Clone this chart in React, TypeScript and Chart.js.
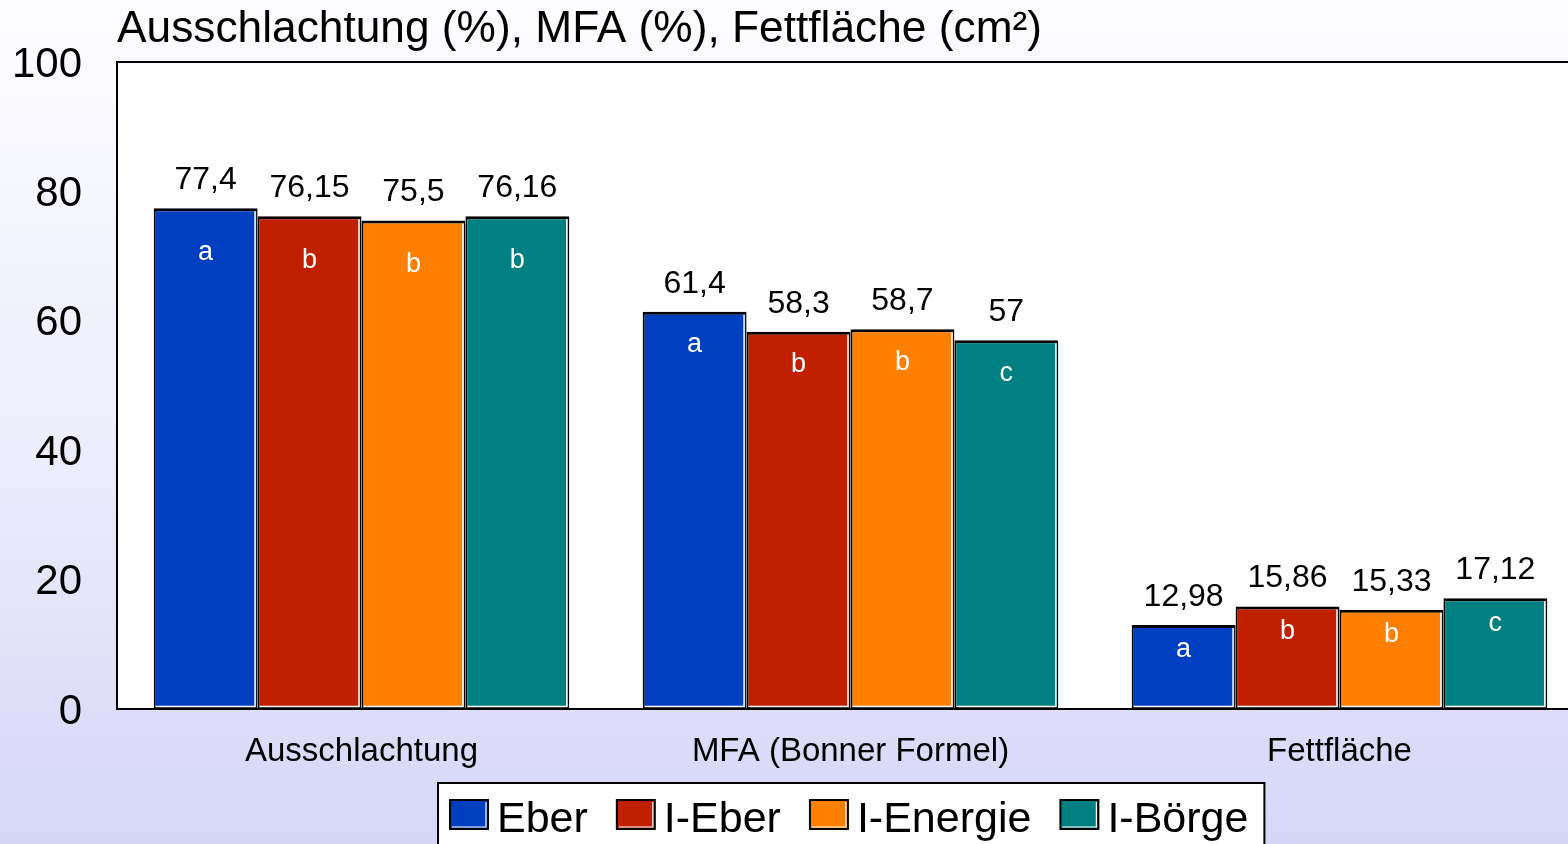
import React, { useEffect, useRef } from "react";
import { Chart, registerables } from "chart.js";

Chart.register(...registerables);

const title = "Ausschlachtung (%), MFA (%), Fettfläche (cm²)";
const categories = ["Ausschlachtung", "MFA (Bonner Formel)", "Fettfläche"];
const seriesNames = ["Eber", "I-Eber", "I-Energie", "I-Börge"];
const eber = [77.4, 61.4, 12.98];
const iEber = [76.15, 58.3, 15.86];
const iEnergie = [75.5, 58.7, 15.33];
const iBoerge = [76.16, 57, 17.12];
const eberLetters = ["a", "a", "a"];
const iEberLetters = ["b", "b", "b"];
const iEnergieLetters = ["b", "b", "b"];
const iBoergeLetters = ["b", "c", "c"];
const yMin = 0;
const yMax = 100;
const yStep = 20;

const colors = ["#0040c0", "#c02000", "#ff8000", "#008080"];
const FONT = '"Liberation Sans", Arial, sans-serif';
const letterOffsets = [44, 33, 25];

const fmt = (v: number) => String(v).replace(".", ",");

const decorPlugin = {
  id: "decor",
  beforeDraw(chart: any) {
    const { ctx, width, height, chartArea: a } = chart;
    ctx.save();
    const g = ctx.createLinearGradient(0, 0, 0, height);
    g.addColorStop(0, "#fdfdff");
    g.addColorStop(0.55, "#ececfc");
    g.addColorStop(1, "#d6d6f8");
    ctx.fillStyle = g;
    ctx.fillRect(0, 0, width, height);
    ctx.fillStyle = "#ffffff";
    ctx.fillRect(a.left, a.top, a.right - a.left, a.bottom - a.top);
    ctx.restore();
  },
  afterDatasetsDraw(chart: any) {
    const { ctx, chartArea: a } = chart;
    const letters = [eberLetters, iEberLetters, iEnergieLetters, iBoergeLetters];
    ctx.save();
    chart.data.datasets.forEach((ds: any, di: number) => {
      const meta = chart.getDatasetMeta(di);
      meta.data.forEach((el: any, i: number) => {
        const { x, y, base, width } = el.getProps(["x", "y", "base", "width"], true);
        const right = x + width / 2;
        const left = x - width / 2;
        // white inner highlight (right + bottom)
        ctx.strokeStyle = "#ffffff";
        ctx.lineWidth = 1.5;
        ctx.beginPath();
        ctx.moveTo(right - 2.5, y + 3);
        ctx.lineTo(right - 2.5, base - 2.5);
        ctx.lineTo(left + 2, base - 2.5);
        ctx.stroke();
        // value label
        ctx.fillStyle = "#000000";
        ctx.font = `32px ${FONT}`;
        ctx.textAlign = "center";
        ctx.textBaseline = "middle";
        ctx.fillText(fmt(ds.data[i]), x, y - 28);
        // significance letter
        ctx.fillStyle = "#ffffff";
        ctx.font = `27px ${FONT}`;
        ctx.fillText(letters[di][i], x, y + letterOffsets[i]);
      });
    });
    // plot frame: left, top, bottom
    ctx.strokeStyle = "#000000";
    ctx.lineWidth = 2;
    ctx.beginPath();
    ctx.moveTo(a.right + 2, a.top);
    ctx.lineTo(a.left, a.top);
    ctx.lineTo(a.left, a.bottom);
    ctx.lineTo(a.right + 2, a.bottom);
    ctx.stroke();
    ctx.restore();
  },
  afterDraw(chart: any) {
    const { ctx } = chart;
    ctx.save();
    // title
    ctx.font = `44px ${FONT}`;
    ctx.fillStyle = "#000000";
    ctx.textAlign = "left";
    ctx.textBaseline = "alphabetic";
    const tw = ctx.measureText(title).width;
    ctx.translate(117, 42);
    ctx.scale(925 / tw, 1);
    ctx.fillText(title, 0, 0);
    ctx.restore();

    // legend
    ctx.save();
    const boxX = 438;
    const boxY = 783;
    ctx.font = `43px ${FONT}`;
    const sq = 38;
    const gapText = 9;
    const gapItem = 29;
    let total = 12;
    seriesNames.forEach((n, i) => {
      total += sq + gapText + ctx.measureText(n).width + (i < seriesNames.length - 1 ? gapItem : 0);
    });
    total += 16;
    ctx.fillStyle = "#ffffff";
    ctx.fillRect(boxX, boxY, total, 90);
    ctx.strokeStyle = "#000000";
    ctx.lineWidth = 2;
    ctx.strokeRect(boxX, boxY, total, 90);
    let x = boxX + 12;
    seriesNames.forEach((n, i) => {
      ctx.fillStyle = colors[i];
      ctx.fillRect(x, 800, sq, 29);
      ctx.strokeStyle = "#000000";
      ctx.lineWidth = 2;
      ctx.strokeRect(x, 800, sq, 29);
      ctx.strokeStyle = "#ffffff";
      ctx.lineWidth = 1.2;
      ctx.beginPath();
      ctx.moveTo(x + sq - 2, 802);
      ctx.lineTo(x + sq - 2, 827);
      ctx.lineTo(x + 2, 827);
      ctx.stroke();
      ctx.fillStyle = "#000000";
      ctx.textAlign = "left";
      ctx.textBaseline = "alphabetic";
      ctx.fillText(n, x + sq + gapText, 832);
      x += sq + gapText + ctx.measureText(n).width + gapItem;
    });
    ctx.restore();
  },
};

export default function App() {
  const ref = useRef<HTMLCanvasElement>(null);
  useEffect(() => {
    if (!ref.current) return;
    const seriesData = [eber, iEber, iEnergie, iBoerge];
    const chart = new Chart(ref.current, {
      type: "bar",
      data: {
        labels: categories,
        datasets: seriesNames.map((name, i) => ({
          label: name,
          data: seriesData[i],
          backgroundColor: colors[i],
          borderColor: "#000000",
          borderWidth: { top: 3, left: 2, right: 1.5, bottom: 2 },
          borderSkipped: false,
          barPercentage: 1,
          categoryPercentage: 0.85,
        })),
      },
      options: {
        animation: false,
        responsive: false,
        devicePixelRatio: 1,
        layout: { padding: { left: 0, top: 62, right: 16, bottom: 65 } },
        plugins: {
          legend: { display: false },
          title: { display: false },
          tooltip: { enabled: false },
        },
        scales: {
          x: {
            grid: { display: false, drawTicks: false },
            border: { display: false },
            ticks: {
              color: "#000000",
              font: { family: FONT, size: 33 },
              padding: 23,
              maxRotation: 0,
            },
            afterFit: (s: any) => {
              s.height = 70;
            },
          },
          y: {
            min: yMin,
            max: yMax,
            grid: { display: false, drawTicks: false },
            border: { display: false },
            ticks: {
              stepSize: yStep,
              color: "#000000",
              font: { family: FONT, size: 42 },
              padding: 35,
              labelOffset: 3,
            },
            afterFit: (s: any) => {
              s.width = 117;
            },
          },
        },
      },
      plugins: [decorPlugin],
    });
    return () => chart.destroy();
  }, []);

  return (
    <div
      style={{
        position: "fixed",
        left: 0,
        top: 0,
        width: 1568,
        height: 844,
        overflow: "hidden",
      }}
    >
      <canvas
        ref={ref}
        width={1600}
        height={844}
        style={{ display: "block", width: 1600, height: 844 }}
      />
    </div>
  );
}
